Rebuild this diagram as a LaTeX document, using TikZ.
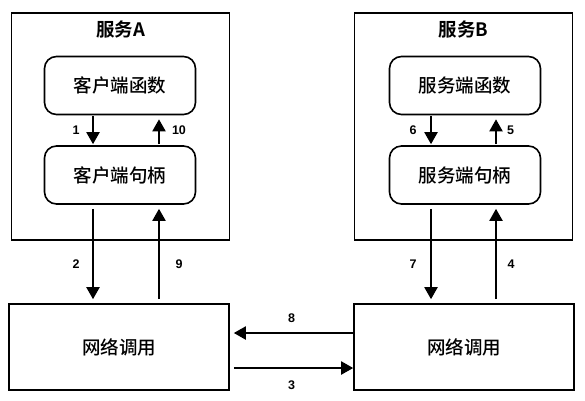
\documentclass[tikz,border=0pt]{standalone}
\usepackage{fontspec}
\setmainfont{Liberation Sans}
\newfontfamily\cjk{Noto Sans CJK SC Medium}
\newfontfamily\cjkbold{Noto Sans CJK SC Bold}
\usetikzlibrary{arrows.meta}

\begin{document}
\begin{tikzpicture}[x=1pt, y=-1pt, line width=1.6pt,
	>={Triangle[length=12pt,width=13pt]},
	outer node/.style={rectangle,draw,minimum width=218pt,minimum height=227pt},
	title node/.style={font=\cjkbold\fontsize{18.5}{20}\selectfont},
	inner node/.style={rectangle,draw,rounded corners=12pt,minimum width=151pt,
		minimum height=58pt,font=\cjk\fontsize{18.5}{20}\selectfont},
	net node/.style={rectangle,draw,minimum width=220pt,minimum height=86pt,
		font=\cjk\fontsize{18.5}{20}\selectfont}]

	\useasboundingbox (0,0) rectangle (585,400);

	\node[outer node] (svcA) at (120.5,126.5) {};
	\node[title node] (titleA) at ([yshift=-17pt]svcA.north) {服务A};
	\node[inner node] (cfunc) at (120,85.5) {客户端函数};
	\node[inner node] (chandle) at (120,175) {客户端句柄};
	\node[net node] (netA) at (119,347) {网络调用};

	\node[outer node] (svcB) at (463.5,126.5) {};
	\node[title node] (titleB) at ([yshift=-17pt]svcB.north) {服务B};
	\node[inner node] (sfunc) at (465,85.5) {服务端函数};
	\node[inner node] (shandle) at (465,175) {服务端句柄};
	\node[net node] (netB) at (464,347) {网络调用};

	\path[->, line width=2pt, shorten <=1pt, shorten >=1pt,
		every node/.style={font=\bfseries\fontsize{12.5}{14}\selectfont,inner sep=2pt}]
	 ([xshift=-27pt]cfunc.south) edge node[left=10.5pt] {1} ([xshift=-27pt]chandle.north)
	 ([xshift=39pt]chandle.north) edge[shorten >=4pt] node[right=10pt] {10} ([xshift=39pt]cfunc.south)
	 ([xshift=-34pt]sfunc.south) edge node[left=11.5pt] {6} ([xshift=-34pt]shandle.north)
	 ([xshift=31pt]shandle.north) edge[shorten >=4pt] node[right=8pt] {5} ([xshift=31pt]sfunc.south);

	\path[->, line width=2pt, shorten <=4pt, shorten >=4pt,
		every node/.style={font=\bfseries\fontsize{12.5}{14}\selectfont,inner sep=2pt}]
	 ([xshift=-27pt]chandle.south) edge node[pos=0.6,left=10.5pt] {2} ([xshift=-27pt]chandle.south |- netA.north)
	 ([xshift=39pt]chandle.south |- netA.north) edge node[pos=0.4,right=13.5pt] {9} ([xshift=39pt]chandle.south)
	 ([xshift=-34pt]shandle.south) edge node[pos=0.6,left=11.5pt] {7} ([xshift=-34pt]shandle.south |- netB.north)
	 ([xshift=31pt]shandle.south |- netB.north) edge node[pos=0.4,right=8.5pt] {4} ([xshift=31pt]shandle.south)
	 ([yshift=14pt]netB.west) edge[shorten <=0pt] node[above=7.5pt] {8} ([yshift=14pt]netB.west -| netA.east)
	 ([yshift=-21pt]netA.east) edge[shorten >=0pt] node[below=9.5pt] {3} ([yshift=-21pt]netA.east -| netB.west);

\end{tikzpicture}
\end{document}
